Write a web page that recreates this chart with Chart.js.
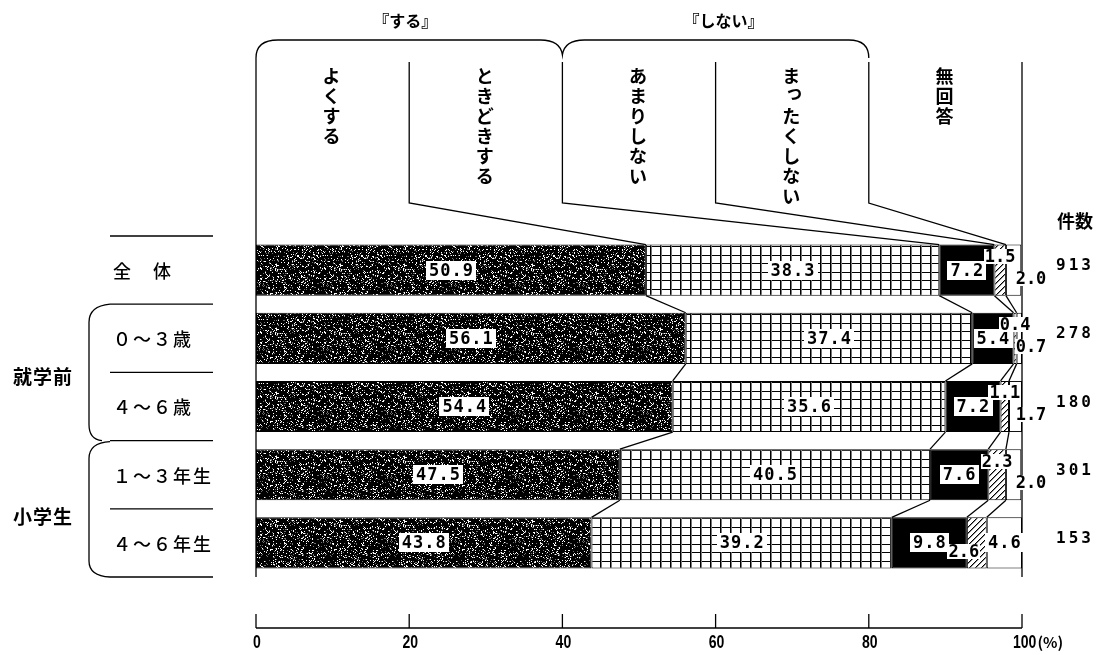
<!DOCTYPE html>
<html>
<head>
<meta charset="utf-8">
<script src="https://cdn.jsdelivr.net/npm/chart.js@4.4.1/dist/chart.umd.min.js"></script>
<style>
  html, body { margin: 0; padding: 0; background: #fff; }
  #wrap { width: 1096px; height: 655px; }
</style>
</head>
<body>
<div id="wrap"><canvas id="c" width="1096" height="655"></canvas></div>
<script>
// ---- data ----
const rowLabels   = ['全　体', '０～３歳', '４～６歳', '１～３年生', '４～６年生'];
const groupLabels = ['就学前', '小学生'];
const counts      = ['913', '278', '180', '301', '153'];
const seriesNames = ['よくする', 'ときどきする', 'あまりしない', 'まったくしない', '無回答'];
const yokusuru    = [50.9, 56.1, 54.4, 47.5, 43.8];
const tokidoki    = [38.3, 37.4, 35.6, 40.5, 39.2];
const amari       = [7.2, 5.4, 7.2, 7.6, 9.8];
const mattaku     = [1.5, 0.4, 1.1, 2.3, 2.6];
const mukaitou    = [2.0, 0.7, 1.7, 2.0, 4.6];
const xTicks      = [0, 20, 40, 60, 80, 100];
const braceLabels = ['『する』', '『しない』'];
const countHeader = '件数';

const series = [yokusuru, tokidoki, amari, mattaku, mukaitou];

// where each value label sits: in = centred, top = upper edge, out = right of the bar, low = lower left
const labelPlace = [
  ['in', 'in', 'in', 'top', 'out'],
  ['in', 'in', 'in', 'top', 'out'],
  ['in', 'in', 'in', 'top', 'out'],
  ['in', 'in', 'in', 'top', 'out'],
  ['in', 'in', 'in', 'low', 'in']
];

const canvas = document.getElementById('c');
const baseCtx = canvas.getContext('2d');

// ---- fill patterns ----
function tile(w, h, paint) {
  const t = document.createElement('canvas');
  t.width = w; t.height = h;
  paint(t.getContext('2d'), w, h);
  return baseCtx.createPattern(t, 'repeat');
}
// dark speckled fill
const stipple = tile(64, 64, (g, w, h) => {
  const img = g.createImageData(w, h);
  for (let y = 0; y < h; y++) {
    for (let x = 0; x < w; x++) {
      let k = (x * 374761393 + y * 668265263) | 0;
      k = Math.imul(k ^ (k >>> 13), 1274126177);
      k = (k ^ (k >>> 16)) >>> 0;
      const r = k % 100;
      const v = r < 11 ? 255 : (r < 19 ? 110 : 0);
      const i = (y * w + x) * 4;
      img.data[i] = img.data[i + 1] = img.data[i + 2] = v;
      img.data[i + 3] = 255;
    }
  }
  g.putImageData(img, 0, 0);
});
// square grid
const grid = tile(10, 17, (g, w, h) => {
  g.fillStyle = '#fff'; g.fillRect(0, 0, w, h);
  g.fillStyle = '#000';
  g.fillRect(0, 0, w, 1); g.fillRect(0, 8, w, 1);
  g.fillRect(0, 0, 1, h);
  g.fillStyle = '#777'; g.fillRect(1, 0, 1, h);
});
// diagonal hatching
const hatch = tile(6, 6, (g, w, h) => {
  const img = g.createImageData(w, h);
  for (let y = 0; y < h; y++) {
    for (let x = 0; x < w; x++) {
      const m = (x + y) % 6;
      const v = m === 0 ? 0 : (m === 1 ? 140 : 255);
      const i = (y * w + x) * 4;
      img.data[i] = img.data[i + 1] = img.data[i + 2] = v;
      img.data[i + 3] = 255;
    }
  }
  g.putImageData(img, 0, 0);
});
const fills = [stipple, grid, '#000', hatch, '#fff'];

const JP = '"Noto Sans CJK JP", "Noto Sans CJK SC", sans-serif';
const NUM = '"DejaVu Sans Mono", "Liberation Mono", monospace';

function line(ctx, pts) {
  ctx.beginPath();
  ctx.moveTo(pts[0][0], pts[0][1]);
  for (let i = 1; i < pts.length; i++) ctx.lineTo(pts[i][0], pts[i][1]);
  ctx.stroke();
}

function valueLabel(ctx, text, cx, cy, big) {
  ctx.save();
  ctx.font = 'bold 17px ' + NUM;
  ctx.letterSpacing = big ? '1px' : '0px';
  const w = ctx.measureText(text).width - (big ? 1 : 0);
  const bw = big ? w + 6 : w + 2;
  const bh = big ? 19 : 15;
  ctx.fillStyle = '#fff';
  ctx.fillRect(Math.round(cx - bw / 2), Math.round(cy - bh / 2), Math.round(bw), bh);
  ctx.fillStyle = '#000';
  ctx.textAlign = 'left';
  ctx.textBaseline = 'middle';
  ctx.fillText(text, cx - w / 2, cy + 1);
  ctx.restore();
}

function vText(ctx, str, cx, top, pitch) {
  [...str].forEach((ch, i) => {
    let dx = 0, dy = 0;
    if ('っゃゅょ'.includes(ch)) { dx = 3; dy = -4; }
    ctx.fillText(ch, cx + dx, top + i * pitch + pitch / 2 + dy);
  });
}

// condensed bold numerals for the percentage axis
function axisText(ctx, text, x, y, align) {
  ctx.save();
  ctx.font = 'bold 18px "Liberation Sans", "DejaVu Sans", sans-serif';
  ctx.textAlign = align;
  ctx.textBaseline = 'middle';
  ctx.translate(x, y);
  ctx.scale(0.78, 1);
  ctx.fillText(text, 0, 0);
  const w = ctx.measureText(text).width * 0.78;
  ctx.restore();
  return w;
}

const surveyFrame = {
  id: 'surveyFrame',
  afterDatasetsDraw(chart) {
    const ctx = chart.ctx;
    const xs = chart.scales.x;
    const area = chart.chartArea;
    const px = v => xs.getPixelForValue(v);
    const n = rowLabels.length;
    const pitch = (area.bottom - area.top) / n;
    const metas = series.map((_, d) => chart.getDatasetMeta(d));
    const bar = (d, i) => metas[d].data[i];
    const barTop = i => bar(0, i).y - bar(0, i).height / 2;
    const barBot = i => bar(0, i).y + bar(0, i).height / 2;
    const cum = (i, k) => series.slice(0, k).reduce((s, arr) => s + arr[i], 0);

    ctx.save();
    ctx.strokeStyle = '#000';
    ctx.lineWidth = 1.3;

    // header columns
    const headTop = 62, headBot = 203, braceY = 40;
    const colX = xTicks.map(px);
    for (let k = 1; k < colX.length - 1; k++) {
      line(ctx, [[colX[k], headTop], [colX[k], headBot], [px(cum(0, k)), barTop(0)]]);
    }
    line(ctx, [[colX[0], headTop], [colX[0], area.bottom]]);
    line(ctx, [[colX[5], headTop], [colX[5], area.bottom]]);

    // braces over the two groups
    ctx.beginPath();
    ctx.moveTo(colX[0], headTop);
    ctx.lineTo(colX[0], braceY + 18);
    ctx.quadraticCurveTo(colX[0], braceY, colX[0] + 22, braceY);
    ctx.lineTo(colX[2] - 22, braceY);
    ctx.quadraticCurveTo(colX[2] - 2, braceY, colX[2], braceY + 15);
    ctx.quadraticCurveTo(colX[2] + 2, braceY, colX[2] + 22, braceY);
    ctx.lineTo(colX[4] - 20, braceY);
    ctx.quadraticCurveTo(colX[4], braceY, colX[4], braceY + 18);
    ctx.stroke();

    ctx.fillStyle = '#000';
    ctx.textAlign = 'center';
    ctx.textBaseline = 'middle';
    ctx.font = 'bold 16px ' + JP;
    ctx.fillText(braceLabels[0], (colX[0] + colX[2]) / 2 - 4, 21);
    ctx.fillText(braceLabels[1], (colX[2] + colX[4]) / 2 + 8, 21);

    ctx.font = 'bold 18px ' + JP;
    seriesNames.forEach((s, k) => {
      vText(ctx, s, (colX[k] + colX[k + 1]) / 2 - 1, 66, 20);
    });

    // connectors between consecutive bars
    for (let i = 0; i < n - 1; i++) {
      for (let k = 1; k < series.length; k++) {
        line(ctx, [[px(cum(i, k)), barBot(i)], [px(cum(i + 1, k)), barTop(i + 1)]]);
      }
    }

    // value labels
    series.forEach((arr, d) => {
      arr.forEach((v, i) => {
        const el = bar(d, i);
        const cx = (el.x + el.base) / 2;
        const top = el.y - el.height / 2;
        const text = v.toFixed(1);
        const place = labelPlace[i][d];
        if (place === 'in') valueLabel(ctx, text, cx, el.y, true);
        else if (place === 'top') valueLabel(ctx, text, cx, top + 12, false);
        else if (place === 'out') valueLabel(ctx, text, px(100) + 9, el.y + 8, false);
        else valueLabel(ctx, text, cx - 13, el.y + 9, false);
      });
    });

    // row labels and separators
    const labL = 110, labR = 213;
    for (let i = 0; i <= n; i++) {
      const y = area.top + i * pitch;
      line(ctx, [[labL, y], [labR, y]]);
    }
    ctx.font = '500 18px ' + JP;
    ctx.letterSpacing = '2px';
    ctx.textAlign = 'left';
    rowLabels.forEach((t, i) => {
      ctx.fillText(t, 113, area.top + (i + 0.5) * pitch + 1);
    });
    ctx.letterSpacing = '0px';

    // group labels with their brackets
    ctx.font = 'bold 19px ' + JP;
    ctx.letterSpacing = '1px';
    ctx.textAlign = 'center';
    const groups = [[1, 3], [3, 5]];
    const groupDy = [4, 8];
    groups.forEach(([a, b], g) => {
      const y0 = area.top + a * pitch, y1 = area.top + b * pitch;
      ctx.fillText(groupLabels[g], 43, (y0 + y1) / 2 + groupDy[g]);
      ctx.beginPath();
      ctx.moveTo(labL, y0 + (g === 0 ? 0 : 1));
      ctx.quadraticCurveTo(89, y0 + 2, 89, y0 + 18);
      ctx.lineTo(89, y1 - 16);
      ctx.quadraticCurveTo(89, y1 - 1, g === 0 ? 102 : labL, y1);
      ctx.stroke();
    });
    ctx.letterSpacing = '0px';

    // case counts
    ctx.font = 'bold 18px ' + JP;
    ctx.fillText(countHeader, 1075, 221);
    ctx.font = 'bold 16px ' + NUM;
    ctx.letterSpacing = '3px';
    counts.forEach((t, i) => {
      ctx.fillText(t, 1075, area.top + (i + 0.5) * pitch - 4);
    });
    ctx.letterSpacing = '0px';

    // percentage axis
    const axY = 628;
    ctx.lineWidth = 1.3;
    line(ctx, [[px(0), axY], [px(100), axY]]);
    xTicks.forEach(t => line(ctx, [[px(t), axY], [px(t), axY - 14]]));
    xTicks.forEach(t => {
      if (t === 100) {
        const x0 = px(t) - 9;
        const w = axisText(ctx, String(t), x0, axY + 15, 'left');
        ctx.font = 'bold 15px ' + JP;
        ctx.textAlign = 'left';
        ctx.textBaseline = 'middle';
        ctx.fillText('(%)', x0 + w + 1, axY + 14);
      } else {
        axisText(ctx, String(t), px(t) + 1, axY + 15, 'center');
      }
    });
    ctx.restore();
  }
};

new Chart(canvas, {
  type: 'bar',
  data: {
    labels: rowLabels,
    datasets: series.map((arr, d) => ({
      label: seriesNames[d],
      data: arr,
      backgroundColor: fills[d],
      borderColor: '#000',
      borderWidth: 1,
      borderSkipped: false,
      barPercentage: 0.75,
      categoryPercentage: 1
    }))
  },
  options: {
    indexAxis: 'y',
    responsive: false,
    animation: false,
    devicePixelRatio: 1,
    layout: { padding: { left: 256, right: 74, top: 236, bottom: 78 } },
    scales: {
      x: { type: 'linear', stacked: true, min: 0, max: 100, display: false },
      y: { type: 'category', stacked: true, display: false }
    },
    plugins: { legend: { display: false }, tooltip: { enabled: false } }
  },
  plugins: [surveyFrame]
});
</script>
</body>
</html>
